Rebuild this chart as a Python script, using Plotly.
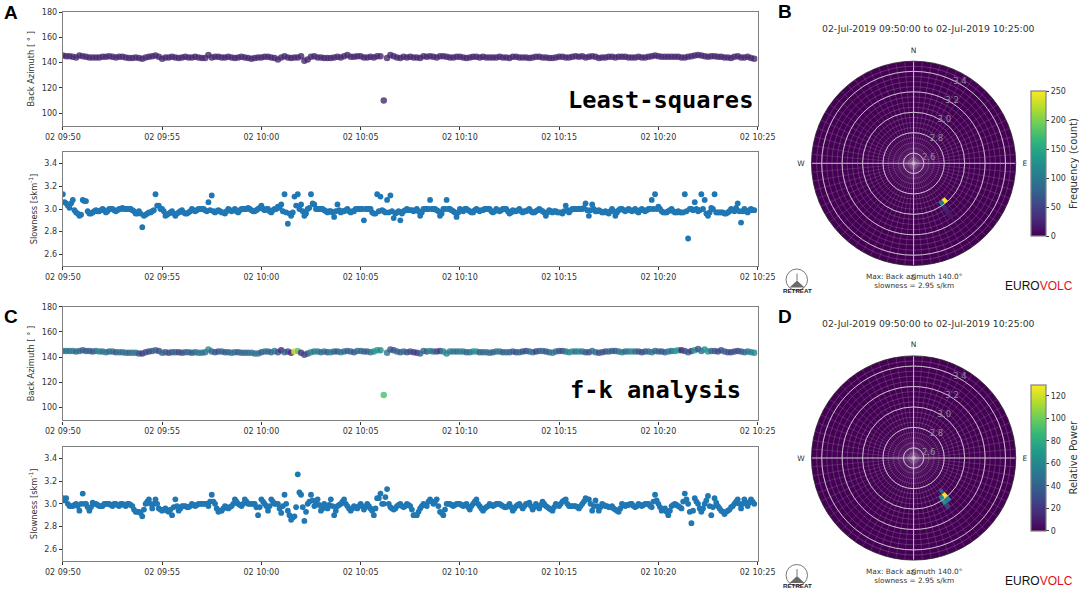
"""
plot.py - array back azimuth and slowness, least-squares vs f-k, with polar histograms.
"""
import numpy as np
import pandas as pd
import plotly.graph_objects as go

W, H = 1079, 591
TEXT = "#333333"
SPINE = "#808080"
BLUE = "#1f77b4"
PURPLE = "#46286f"
BG_POLAR = "#440154"
FONT = "DejaVu Sans"

TIMES = pd.date_range("2019-07-02 09:50:00", periods=210, freq="10s")
TIMES_MID = pd.date_range("2019-07-02 09:50:05", periods=209, freq="10s")
TICK_START = "2019-07-02 09:50:00"
TICK_END = "2019-07-02 10:25:00"

AZ_LS = [
    145.5, 145, 145, 144.5, 144, 145.5, 145, 144.5, 144, 144,
    144, 144, 144.5, 144.5, 145, 144.5, 144, 144.5, 144.5, 144,
    143.5, 143.5, 144, 143.5, 143, 144, 144.5, 145, 145.5, 144.5,
    143, 144, 144, 144.5, 144, 143.5, 144, 144.5, 144, 144,
    144.5, 144, 143.5, 143.5, 146, 144, 144.5, 144.5, 144, 144,
    144.5, 144, 143.5, 144, 144.5, 144, 143.5, 143, 143.5, 144,
    144, 144.5, 144.5, 144, 143.5, 142.5, 144, 145, 144, 143.5,
    144, 144, 145, 141.5, 142.5, 144.5, 145, 144, 144, 143.5,
    143.5, 143.5, 144, 144.5, 144, 145, 146, 144.5, 144.5, 145,
    145, 144, 144, 144.5, 144, 145, 145, 110, 143.5, 146,
    145, 144, 143.5, 144.5, 144, 144.5, 144, 144, 143.5, 145,
    144.5, 145, 144.5, 144, 145, 145, 144.5, 144, 144, 144.5,
    144.5, 144, 143.5, 144, 144.5, 144.5, 144, 144.5, 144, 144,
    144, 144, 144.5, 144, 144, 143.5, 144.5, 144.5, 144, 144,
    144, 143.5, 144, 144.5, 144.5, 144, 144, 143.5, 143.5, 144,
    144.5, 144.5, 144, 144, 144.5, 145, 144.5, 145, 144, 144.5,
    145, 144.5, 143.5, 144, 144, 144.5, 144.5, 144, 144.5, 144.5,
    144.5, 144, 144, 144, 144.5, 144, 144, 144.5, 145, 145.5,
    145, 144.5, 144.5, 144.5, 144.5, 144.5, 144.5, 144, 144, 144.5,
    145, 145.5, 146, 145.5, 145, 144.5, 145, 145, 144.5, 144.5,
    144, 144, 143.5, 144.5, 145, 144, 144, 144.5, 143.5, 143,
]

SLOW_LS = [
    3.13, 3.05, 3.01, 3.08, 2.97, 2.94, 3.08, 3.07, 2.96, 2.97,
    2.99, 2.98, 3.0, 2.97, 3.0, 3.0, 2.98, 3.0, 3.01, 3.0,
    3.0, 2.99, 2.96, 2.98, 2.84, 2.95, 2.97, 2.98, 3.13, 3.03,
    3.0, 2.94, 2.96, 2.98, 2.94, 2.97, 2.99, 2.96, 2.97, 3.0,
    2.98, 3.0, 3.0, 2.99, 3.06, 3.12, 2.97, 2.99, 2.97, 2.96,
    3.0, 2.98, 3.0, 2.97, 3.0, 3.0, 3.01, 2.99, 2.98, 3.0,
    3.03, 2.99, 3.0, 2.97, 3.0, 3.02, 3.04, 3.13, 2.87, 2.94,
    3.11, 3.13, 3.04, 2.94, 3.0, 3.13, 3.04, 3.0, 3.0, 2.99,
    2.97, 2.98, 2.93, 3.04, 2.97, 2.98, 3.0, 2.97, 2.98, 3.0,
    3.0, 2.9, 3.0, 3.0, 2.96, 3.13, 3.11, 2.98, 3.08, 3.12,
    2.92, 2.97, 2.9, 2.98, 3.0, 2.99, 2.98, 3.0, 2.94, 3.0,
    3.0, 3.08, 3.0, 2.99, 2.94, 3.0, 3.08, 3.0, 2.98, 2.93,
    3.0, 2.98, 3.0, 2.98, 2.97, 3.0, 2.98, 2.99, 3.0, 3.0,
    2.97, 3.0, 2.98, 3.0, 3.0, 2.96, 2.99, 2.98, 3.0, 2.97,
    2.98, 3.0, 2.97, 2.98, 3.0, 2.98, 2.94, 2.99, 2.97, 2.98,
    2.97, 2.96, 3.03, 2.97, 3.0, 3.0, 3.0, 3.0, 3.05, 2.94,
    3.04, 2.98, 2.99, 2.97, 2.98, 2.96, 3.0, 2.94, 2.99, 3.0,
    2.98, 3.0, 2.98, 3.0, 2.97, 3.0, 2.98, 3.0, 3.08, 3.13,
    3.02, 2.98, 2.97, 2.98, 3.0, 2.97, 2.98, 2.97, 3.13, 2.74,
    3.0, 3.06, 2.98, 3.13, 3.08, 2.94, 3.01, 3.13, 2.97, 2.97,
    2.96, 2.97, 3.0, 2.98, 3.05, 2.88, 3.0, 2.97, 3.0, 2.99,
]

SLOW_LS_MID = [
    3.06, 3.03, 3.05, 2.99, 2.96, 2.95, 3.07, 2.98, 2.96, 2.98,
    2.98, 2.99, 2.99, 2.98, 3.0, 2.99, 2.99, 3.0, 3.0, 3.0,
    3.0, 2.98, 2.96, 2.96, 2.94, 2.96, 2.97, 2.99, 3.03, 3.0,
    2.98, 2.95, 2.97, 2.96, 2.96, 2.98, 2.97, 2.96, 2.98, 2.99,
    2.99, 3.0, 3.0, 2.98, 2.99, 2.98, 2.98, 2.98, 2.97, 2.98,
    2.99, 2.99, 2.98, 2.99, 3.0, 3.0, 3.0, 2.98, 2.99, 3.01,
    3.0, 3.0, 2.98, 2.99, 3.0, 3.01, 2.98, 2.97, 2.96, 2.97,
    3.03, 3.0, 2.98, 2.96, 3.01, 3.05, 3.0, 3.0, 3.0, 2.98,
    2.98, 2.97, 2.98, 2.99, 2.98, 2.99, 2.98, 2.98, 3.0, 3.0,
    3.0, 3.0, 3.0, 2.97, 2.96, 2.98, 2.99, 2.97, 2.97, 2.98,
    2.96, 2.98, 2.96, 2.99, 2.99, 2.99, 2.99, 2.98, 2.97, 3.0,
    3.0, 3.0, 3.0, 2.98, 2.96, 3.0, 3.0, 2.99, 2.97, 2.97,
    2.99, 3.0, 2.99, 2.97, 2.99, 2.99, 2.99, 3.0, 3.0, 2.98,
    2.98, 2.99, 2.99, 3.0, 2.98, 2.97, 2.98, 2.99, 2.98, 2.98,
    2.99, 2.98, 2.97, 2.99, 2.99, 2.97, 2.97, 2.98, 2.98, 2.97,
    2.97, 2.98, 2.99, 2.99, 3.0, 3.0, 3.0, 3.01, 2.99, 2.99,
    3.0, 2.98, 2.98, 2.97, 2.97, 2.98, 2.98, 2.97, 3.0, 2.99,
    2.99, 2.99, 2.99, 2.98, 2.99, 2.99, 2.99, 3.0, 3.0, 3.0,
    3.0, 2.97, 2.97, 2.99, 2.98, 2.97, 2.97, 2.97, 2.98, 3.0,
    2.99, 3.0, 2.99, 3.0, 2.96, 2.97, 3.0, 2.97, 2.97, 2.97,
    2.96, 2.98, 2.99, 3.01, 2.98, 2.98, 2.98, 2.99, 2.99,
]

AZ_FK = [
    145, 145, 145, 145, 144.5, 145, 145.5, 145, 145, 144.5,
    145, 144.5, 144.5, 144, 144.5, 144.5, 144, 144, 144, 143.5,
    143.5, 143.5, 143.5, 143, 143, 144, 144.5, 145, 145.5, 145,
    143.5, 144, 143.5, 144, 144, 144, 143.5, 144, 144, 143.5,
    144, 143.5, 143.5, 144, 146, 144.5, 144, 144.5, 144.5, 144,
    144, 143.5, 144, 144, 143.5, 143.5, 143.5, 143.5, 143, 143,
    144, 144.5, 144.5, 144, 145, 144, 145.5, 144, 144.5, 143.5,
    144.5, 145, 143.5, 142, 143, 144, 144.5, 144.5, 144, 144.5,
    144, 144, 144.5, 144.5, 144, 144.5, 145, 144.5, 144, 145,
    145, 144.5, 144.5, 144, 144.5, 145.5, 145.5, 110, 143.5, 146,
    145.5, 144.5, 144, 144.5, 144, 144.5, 144, 143.5, 143, 145,
    144.5, 145, 144.5, 144.5, 145, 144.5, 143, 144.5, 144.5, 144.5,
    144.5, 144.5, 144, 144, 144.5, 144.5, 144, 144, 144, 143.5,
    144, 144.5, 144.5, 144, 144, 144, 144.5, 144, 144, 144.5,
    145, 144.5, 144, 144.5, 145, 145, 144.5, 144, 143.5, 144.5,
    145, 145, 144.5, 144, 144.5, 144.5, 144.5, 144.5, 144, 144,
    145, 144, 143.5, 144, 144.5, 144.5, 145, 145, 144.5, 144,
    144.5, 144.5, 144.5, 144.5, 144.5, 144, 144.5, 144.5, 144, 145,
    144.5, 144.5, 144, 144.5, 145, 145, 145.5, 145.5, 145, 144,
    145, 145.5, 146.5, 145, 146, 144.5, 145, 145, 144.5, 145.5,
    144.5, 144, 144, 144.5, 145, 144.5, 144, 144.5, 144, 143.5,
]

POWER_FK = [
    52, 50, 48, 55, 42, 48, 38, 36, 40, 32,
    48, 60, 44, 52, 42, 48, 36, 50, 44, 48,
    40, 52, 50, 36, 22, 30, 28, 36, 42, 30,
    44, 38, 30, 36, 40, 28, 32, 38, 44, 34,
    46, 52, 50, 44, 62, 40, 36, 30, 44, 36,
    40, 46, 48, 38, 44, 42, 46, 50, 48, 52,
    34, 48, 44, 42, 52, 34, 14, 42, 30, 14,
    124, 96, 18, 24, 30, 62, 50, 58, 44, 50,
    36, 60, 40, 32, 52, 46, 38, 42, 36, 48,
    44, 40, 36, 50, 62, 72, 60, 92, 50, 36,
    30, 42, 38, 46, 34, 30, 24, 20, 40, 46,
    36, 62, 44, 30, 22, 58, 60, 54, 48, 44,
    52, 56, 40, 48, 60, 70, 36, 42, 50, 44,
    40, 48, 52, 36, 46, 40, 38, 30, 42, 34,
    30, 42, 50, 24, 38, 46, 34, 40, 52, 44,
    36, 30, 48, 60, 66, 44, 62, 50, 38, 30,
    46, 52, 30, 36, 28, 44, 38, 34, 48, 56,
    42, 50, 64, 46, 34, 30, 36, 44, 52, 42,
    40, 34, 38, 56, 44, 66, 72, 12, 30, 36,
    22, 70, 34, 46, 64, 72, 44, 36, 28, 30,
    40, 34, 26, 32, 28, 36, 44, 50, 56, 60,
]

SLOW_FK = [
    3.05, 3.05, 2.98, 2.98, 3.0, 2.94, 3.09, 3.0, 2.94, 3.01,
    3.0, 2.98, 2.98, 3.0, 3.0, 2.98, 3.0, 2.98, 3.0, 2.98,
    3.0, 2.98, 2.93, 2.93, 2.89, 3.0, 3.04, 2.96, 3.04, 2.96,
    2.94, 2.96, 2.93, 2.9, 3.04, 2.94, 2.98, 2.98, 2.97, 3.0,
    2.98, 3.0, 3.0, 3.0, 2.98, 3.08, 3.0, 2.93, 2.94, 2.98,
    2.96, 2.98, 3.04, 3.0, 2.98, 3.04, 3.0, 3.0, 3.0, 2.9,
    3.04, 3.0, 2.94, 3.04, 3.0, 3.0, 2.92, 3.08, 2.94, 2.86,
    2.89, 3.26, 3.08, 2.85, 3.0, 3.08, 2.98, 3.04, 2.94, 3.0,
    2.96, 3.04, 2.9, 2.98, 3.0, 3.04, 2.98, 2.94, 2.98, 2.96,
    3.0, 2.95, 3.0, 2.96, 2.9, 3.05, 3.09, 3.0, 3.13, 2.97,
    2.95, 2.98, 3.0, 2.97, 3.0, 2.98, 2.9, 2.9, 2.96, 3.0,
    2.98, 3.04, 3.0, 3.04, 2.93, 2.9, 3.0, 3.0, 2.98, 3.0,
    3.0, 2.98, 3.0, 2.95, 3.0, 3.04, 2.98, 2.94, 2.97, 3.0,
    2.98, 3.0, 3.0, 2.98, 2.97, 3.0, 2.94, 2.98, 3.0, 2.96,
    3.0, 3.01, 2.95, 3.0, 2.96, 3.02, 2.98, 2.96, 2.94, 3.0,
    2.98, 3.02, 3.04, 2.98, 2.98, 2.98, 2.96, 3.0, 3.05, 3.04,
    2.94, 3.03, 2.94, 3.0, 2.98, 2.97, 2.98, 2.95, 2.93, 3.0,
    2.98, 2.99, 3.0, 2.97, 3.0, 2.98, 3.0, 3.0, 2.97, 3.08,
    3.0, 2.94, 2.96, 2.9, 2.98, 3.0, 2.98, 2.96, 3.09, 3.0,
    2.83, 3.05, 3.0, 2.93, 3.0, 3.07, 2.9, 3.05, 2.98, 2.94,
    2.91, 2.94, 2.97, 3.0, 3.04, 2.96, 3.04, 2.98, 3.04, 3.0,
]

SLOW_FK_MID = [
    3.03, 3.0, 2.98, 2.99, 2.98, 3.0, 3.0, 2.97, 2.97, 3.0,
    2.99, 2.98, 3.0, 3.0, 2.99, 3.0, 2.99, 3.0, 2.99, 3.0,
    2.99, 2.95, 2.93, 2.92, 2.95, 3.02, 3.0, 3.0, 3.0, 2.95,
    2.95, 2.94, 2.95, 2.97, 2.98, 2.96, 2.98, 2.97, 2.98, 2.99,
    2.99, 3.0, 3.0, 3.0, 3.02, 3.02, 2.96, 2.94, 2.96, 2.97,
    2.97, 3.0, 3.02, 2.99, 3.0, 3.02, 3.0, 3.0, 2.97, 2.97,
    3.02, 2.98, 2.98, 3.02, 3.0, 2.96, 2.98, 3.0, 2.9, 2.88,
    2.97, 3.1, 2.97, 2.93, 3.02, 3.03, 3.0, 2.99, 2.96, 2.98,
    2.99, 2.98, 2.94, 2.99, 3.02, 3.0, 2.96, 2.96, 2.97, 2.98,
    2.98, 2.97, 2.98, 2.94, 2.96, 3.05, 3.0, 3.06, 3.0, 2.96,
    2.96, 2.99, 2.98, 2.98, 2.99, 2.95, 2.9, 2.93, 2.98, 2.99,
    3.02, 3.02, 3.02, 2.98, 2.92, 2.95, 3.0, 2.99, 2.99, 3.0,
    2.99, 2.99, 2.97, 2.98, 3.02, 3.0, 2.96, 2.96, 2.98, 2.99,
    2.99, 3.0, 2.99, 2.97, 2.98, 2.97, 2.96, 2.99, 2.98, 2.98,
    3.0, 2.98, 2.97, 2.98, 2.99, 3.0, 2.97, 2.95, 2.97, 2.99,
    3.0, 3.03, 3.0, 2.98, 2.98, 2.97, 2.98, 3.02, 3.04, 3.0,
    2.98, 2.98, 2.97, 2.99, 2.98, 2.97, 2.96, 2.94, 2.96, 2.99,
    2.99, 3.0, 2.98, 2.98, 2.99, 2.99, 3.0, 2.98, 3.02, 3.03,
    2.97, 2.95, 2.93, 2.94, 2.99, 2.99, 2.97, 3.02, 3.04, 2.93,
    2.94, 3.02, 2.96, 2.96, 3.03, 2.98, 2.97, 3.01, 2.96, 2.93,
    2.93, 2.95, 2.98, 3.02, 3.0, 3.0, 3.01, 3.01, 3.02,
]

# occupied histogram cells only, everything else is the zero colour of the background
B_THETA = [140, 145, 145, 145, 145]
B_SLOW = [2.95, 2.95, 3.0, 3.05, 3.1]
B_COUNT = [250, 100, 25, 20, 15]

D_THETA = [140, 145, 140, 145, 145, 140]
D_SLOW = [2.95, 3.0, 2.9, 3.05, 2.95, 3.0]
D_POWER = [130, 65, 40, 25, 62, 60]

SLOW_TICKS = [2.6, 2.8, 3.0, 3.2, 3.4]
COMPASS_VALS = [0, 90, 180, 270]
COMPASS_TEXT = ["N", "E", "S", "W"]
RANGE_TITLE = "02-Jul-2019 09:50:00 to 02-Jul-2019 10:25:00"
MAX_NOTE = "Max: Back azimuth 140.0°<br>slowness = 2.95 s/km"
LOGO_TEXT = 'EURO<span style="color:#e0141c">VOLC</span>'


def fx(px):
    return px / W


def fy(px):
    return 1 - px / H


def time_axis(anchor):
    return dict(
        domain=[fx(63), fx(759)], anchor=anchor, type="date", automargin=False,
        range=[TICK_START, TICK_END], tickformat="%d %H:%M", dtick=300000,
        tick0=TICK_START, ticks="outside", ticklen=3, tickwidth=0.8, tickcolor=TEXT,
        tickfont=dict(size=8, color=TEXT, family=FONT),
        showline=True, mirror=True, linecolor=SPINE, linewidth=1.4,
        showgrid=False, zeroline=False,
    )


def value_axis(anchor, y0, y1, vrange, dtick, title, fmt):
    return dict(
        domain=[fy(y1), fy(y0)], anchor=anchor, range=vrange, dtick=dtick, automargin=False,
        tickformat=fmt, ticks="outside", ticklen=3, tickwidth=0.8, tickcolor=TEXT,
        tickfont=dict(size=8, color=TEXT, family=FONT),
        title=dict(text=title, font=dict(size=8.3, color=TEXT, family=FONT), standoff=5),
        showline=True, mirror=True, linecolor=SPINE, linewidth=1.4,
        showgrid=False, zeroline=False,
    )


def polar_domain(cy):
    return dict(x=[fx(915.3 - 102.3), fx(915.3 + 102.3)], y=[fy(cy + 102.3), fy(cy - 102.3)])


def polar_fine(cy):
    # thin histogram bin lines, sits under the bars
    return dict(
        domain=polar_domain(cy), bgcolor=BG_POLAR,
        radialaxis=dict(range=[2.5, 3.5], tickvals=np.arange(2.55, 3.5, 0.05).tolist(),
                        showticklabels=False, ticks="", showline=False,
                        gridcolor="rgba(255,255,255,0.17)", gridwidth=0.6),
        angularaxis=dict(direction="clockwise", rotation=90, tickvals=np.arange(0, 360, 5).tolist(),
                         showticklabels=False, ticks="", showline=False,
                         gridcolor="rgba(255,255,255,0.13)", gridwidth=0.6),
    )


def polar_major(cy):
    return dict(
        domain=polar_domain(cy), bgcolor="rgba(0,0,0,0)",
        radialaxis=dict(range=[2.5, 3.5], tickvals=SLOW_TICKS, tickformat=".1f", angle=67.5,
                        tickangle=67.5, ticks="", showline=False, gridcolor="#c9bccb", gridwidth=1.1,
                        tickfont=dict(size=8.5, color="#96889f", family=FONT)),
        angularaxis=dict(direction="clockwise", rotation=90, tickvals=COMPASS_VALS,
                         ticktext=COMPASS_TEXT, ticks="outside", ticklen=5,
                         tickcolor="rgba(0,0,0,0)", showline=True, linecolor="#222222",
                         linewidth=0.8, gridcolor="#c9bccb", gridwidth=1.1,
                         tickfont=dict(size=7.5, color=TEXT, family=FONT)),
    )


def colorbar(y0, y1, title, dtick):
    return dict(
        x=fx(1032.7), xanchor="left", xpad=0, y=fy(y1), yanchor="bottom", ypad=0,
        lenmode="pixels", len=y1 - y0, thicknessmode="pixels", thickness=14.6,
        outlinecolor=SPINE, outlinewidth=1.2, dtick=dtick, tick0=0,
        ticks="outside", ticklen=3, tickcolor=TEXT,
        tickfont=dict(size=8, color=TEXT, family=FONT),
        title=dict(text=title, side="right", font=dict(size=10, color=TEXT, family=FONT)),
    )


def note(x, y, text, size, color=TEXT, family=FONT, bold=False):
    label = f"<b>{text}</b>" if bold else text
    return dict(x=fx(x), y=fy(y), xref="paper", yref="paper", text=label, showarrow=False,
                xanchor="center", yanchor="middle",
                font=dict(size=size, color=color, family=family))


fig = go.Figure()

fig.add_trace(go.Scatter(x=TIMES, y=AZ_LS, mode="markers", xaxis="x", yaxis="y",
                         marker=dict(color=PURPLE, size=6.5, opacity=0.8, line=dict(width=0))))
fig.add_trace(go.Scatter(x=TIMES, y=SLOW_LS, mode="markers", xaxis="x2", yaxis="y2",
                         marker=dict(color=BLUE, size=5.8, line=dict(width=0))))
fig.add_trace(go.Scatter(x=TIMES_MID, y=SLOW_LS_MID, mode="markers", xaxis="x2", yaxis="y2",
                         marker=dict(color=BLUE, size=5.8, line=dict(width=0))))
fig.add_trace(go.Scatter(x=TIMES, y=AZ_FK, mode="markers", xaxis="x3", yaxis="y3",
                         marker=dict(color=POWER_FK, coloraxis="coloraxis2", size=6.5,
                                     opacity=0.8, line=dict(width=0))))
fig.add_trace(go.Scatter(x=TIMES, y=SLOW_FK, mode="markers", xaxis="x4", yaxis="y4",
                         marker=dict(color=BLUE, size=5.8, line=dict(width=0))))
fig.add_trace(go.Scatter(x=TIMES_MID, y=SLOW_FK_MID, mode="markers", xaxis="x4", yaxis="y4",
                         marker=dict(color=BLUE, size=5.8, line=dict(width=0))))

fig.add_trace(go.Barpolar(theta=B_THETA, r=[0.05] * len(B_SLOW), base=B_SLOW, width=5,
                          subplot="polar",
                          marker=dict(color=B_COUNT, coloraxis="coloraxis", line=dict(width=0))))
fig.add_trace(go.Barpolar(theta=D_THETA, r=[0.05] * len(D_SLOW), base=D_SLOW, width=5,
                          subplot="polar3",
                          marker=dict(color=D_POWER, coloraxis="coloraxis2", line=dict(width=0))))
# empty traces so the overlay polar subplots get drawn
fig.add_trace(go.Scatterpolar(theta=[], r=[], subplot="polar2", mode="markers"))
fig.add_trace(go.Scatterpolar(theta=[], r=[], subplot="polar4", mode="markers"))

annotations = [
    note(10.7, 12.7, "A", 19, "#000000", "Liberation Sans", True),
    note(11, 316, "C", 19, "#000000", "Liberation Sans", True),
    note(786.7, 12, "B", 19, "#000000", "Liberation Sans", True),
    note(786.7, 316, "D", 19, "#000000", "Liberation Sans", True),
    note(661.5, 100, "Least-squares", 23.7, "#000000", "DejaVu Sans Mono", True),
    note(656.5, 390, "f-k analysis", 23.7, "#000000", "DejaVu Sans Mono", True),
    note(930, 28.7, RANGE_TITLE, 9.3),
    note(930, 323, RANGE_TITLE, 9.3),
    note(915.7, 280.5, MAX_NOTE, 7.3),
    note(915.7, 575.5, MAX_NOTE, 7.3),
]
shapes = []
for logo_y in [279.5, 575]:
    annotations.append(note(798.5, logo_y + 10.5, "RETREAT", 6.2, "#222222", "Liberation Sans", True))
    annotations.append(note(1041, logo_y + 6, LOGO_TEXT, 12, "#111111", "Liberation Sans"))
    shapes.append(dict(type="circle", xref="paper", yref="paper",
                       x0=fx(787.5), x1=fx(809), y0=fy(logo_y + 11), y1=fy(logo_y - 10.5),
                       line=dict(color="#555555", width=0.8)))
    shapes.append(dict(type="path", xref="paper", yref="paper", fillcolor="#6a6a6a",
                       line=dict(width=0),
                       path=f"M {fx(791)} {fy(logo_y + 8)} L {fx(798.5)} {fy(logo_y + 1)} "
                            f"L {fx(806)} {fy(logo_y + 8)} Z"))
    shapes.append(dict(type="line", xref="paper", yref="paper", x0=fx(798.5), x1=fx(798.5),
                       y0=fy(logo_y + 1), y1=fy(logo_y - 6), line=dict(color="#555555", width=0.8)))

fig.update_layout(
    width=W, height=H, paper_bgcolor="white", plot_bgcolor="white",
    margin=dict(l=0, r=0, t=0, b=0), showlegend=False,
    font=dict(family=FONT, color=TEXT),
    xaxis=time_axis("y"),
    yaxis=value_axis("x", 12, 125.7, [90, 180], 20, "Back Azimuth [ ° ]", "d"),
    xaxis2=time_axis("y2"),
    yaxis2=value_axis("x2", 152.3, 265.7, [2.5, 3.5], 0.2, "Slowness [skm<sup>-1</sup>]", ".1f"),
    xaxis3=time_axis("y3"),
    yaxis3=value_axis("x3", 306.7, 420.3, [90, 180], 20, "Back Azimuth [ ° ]", "d"),
    xaxis4=time_axis("y4"),
    yaxis4=value_axis("x4", 447, 560.7, [2.5, 3.5], 0.2, "Slowness [skm<sup>-1</sup>]", ".1f"),
    polar=polar_fine(163.3), polar2=polar_major(163.3),
    polar3=polar_fine(458), polar4=polar_major(458),
    coloraxis=dict(colorscale="Viridis", cmin=0, cmax=250,
                   colorbar=colorbar(90.7, 236, "Frequency (count)", 50)),
    coloraxis2=dict(colorscale="Viridis", cmin=0, cmax=130,
                    colorbar=colorbar(385, 530.7, "Relative Power", 20)),
    annotations=annotations, shapes=shapes,
)

fig.write_html("out.html", config={"displayModeBar": False},
               post_script="document.body.style.margin='0';")
